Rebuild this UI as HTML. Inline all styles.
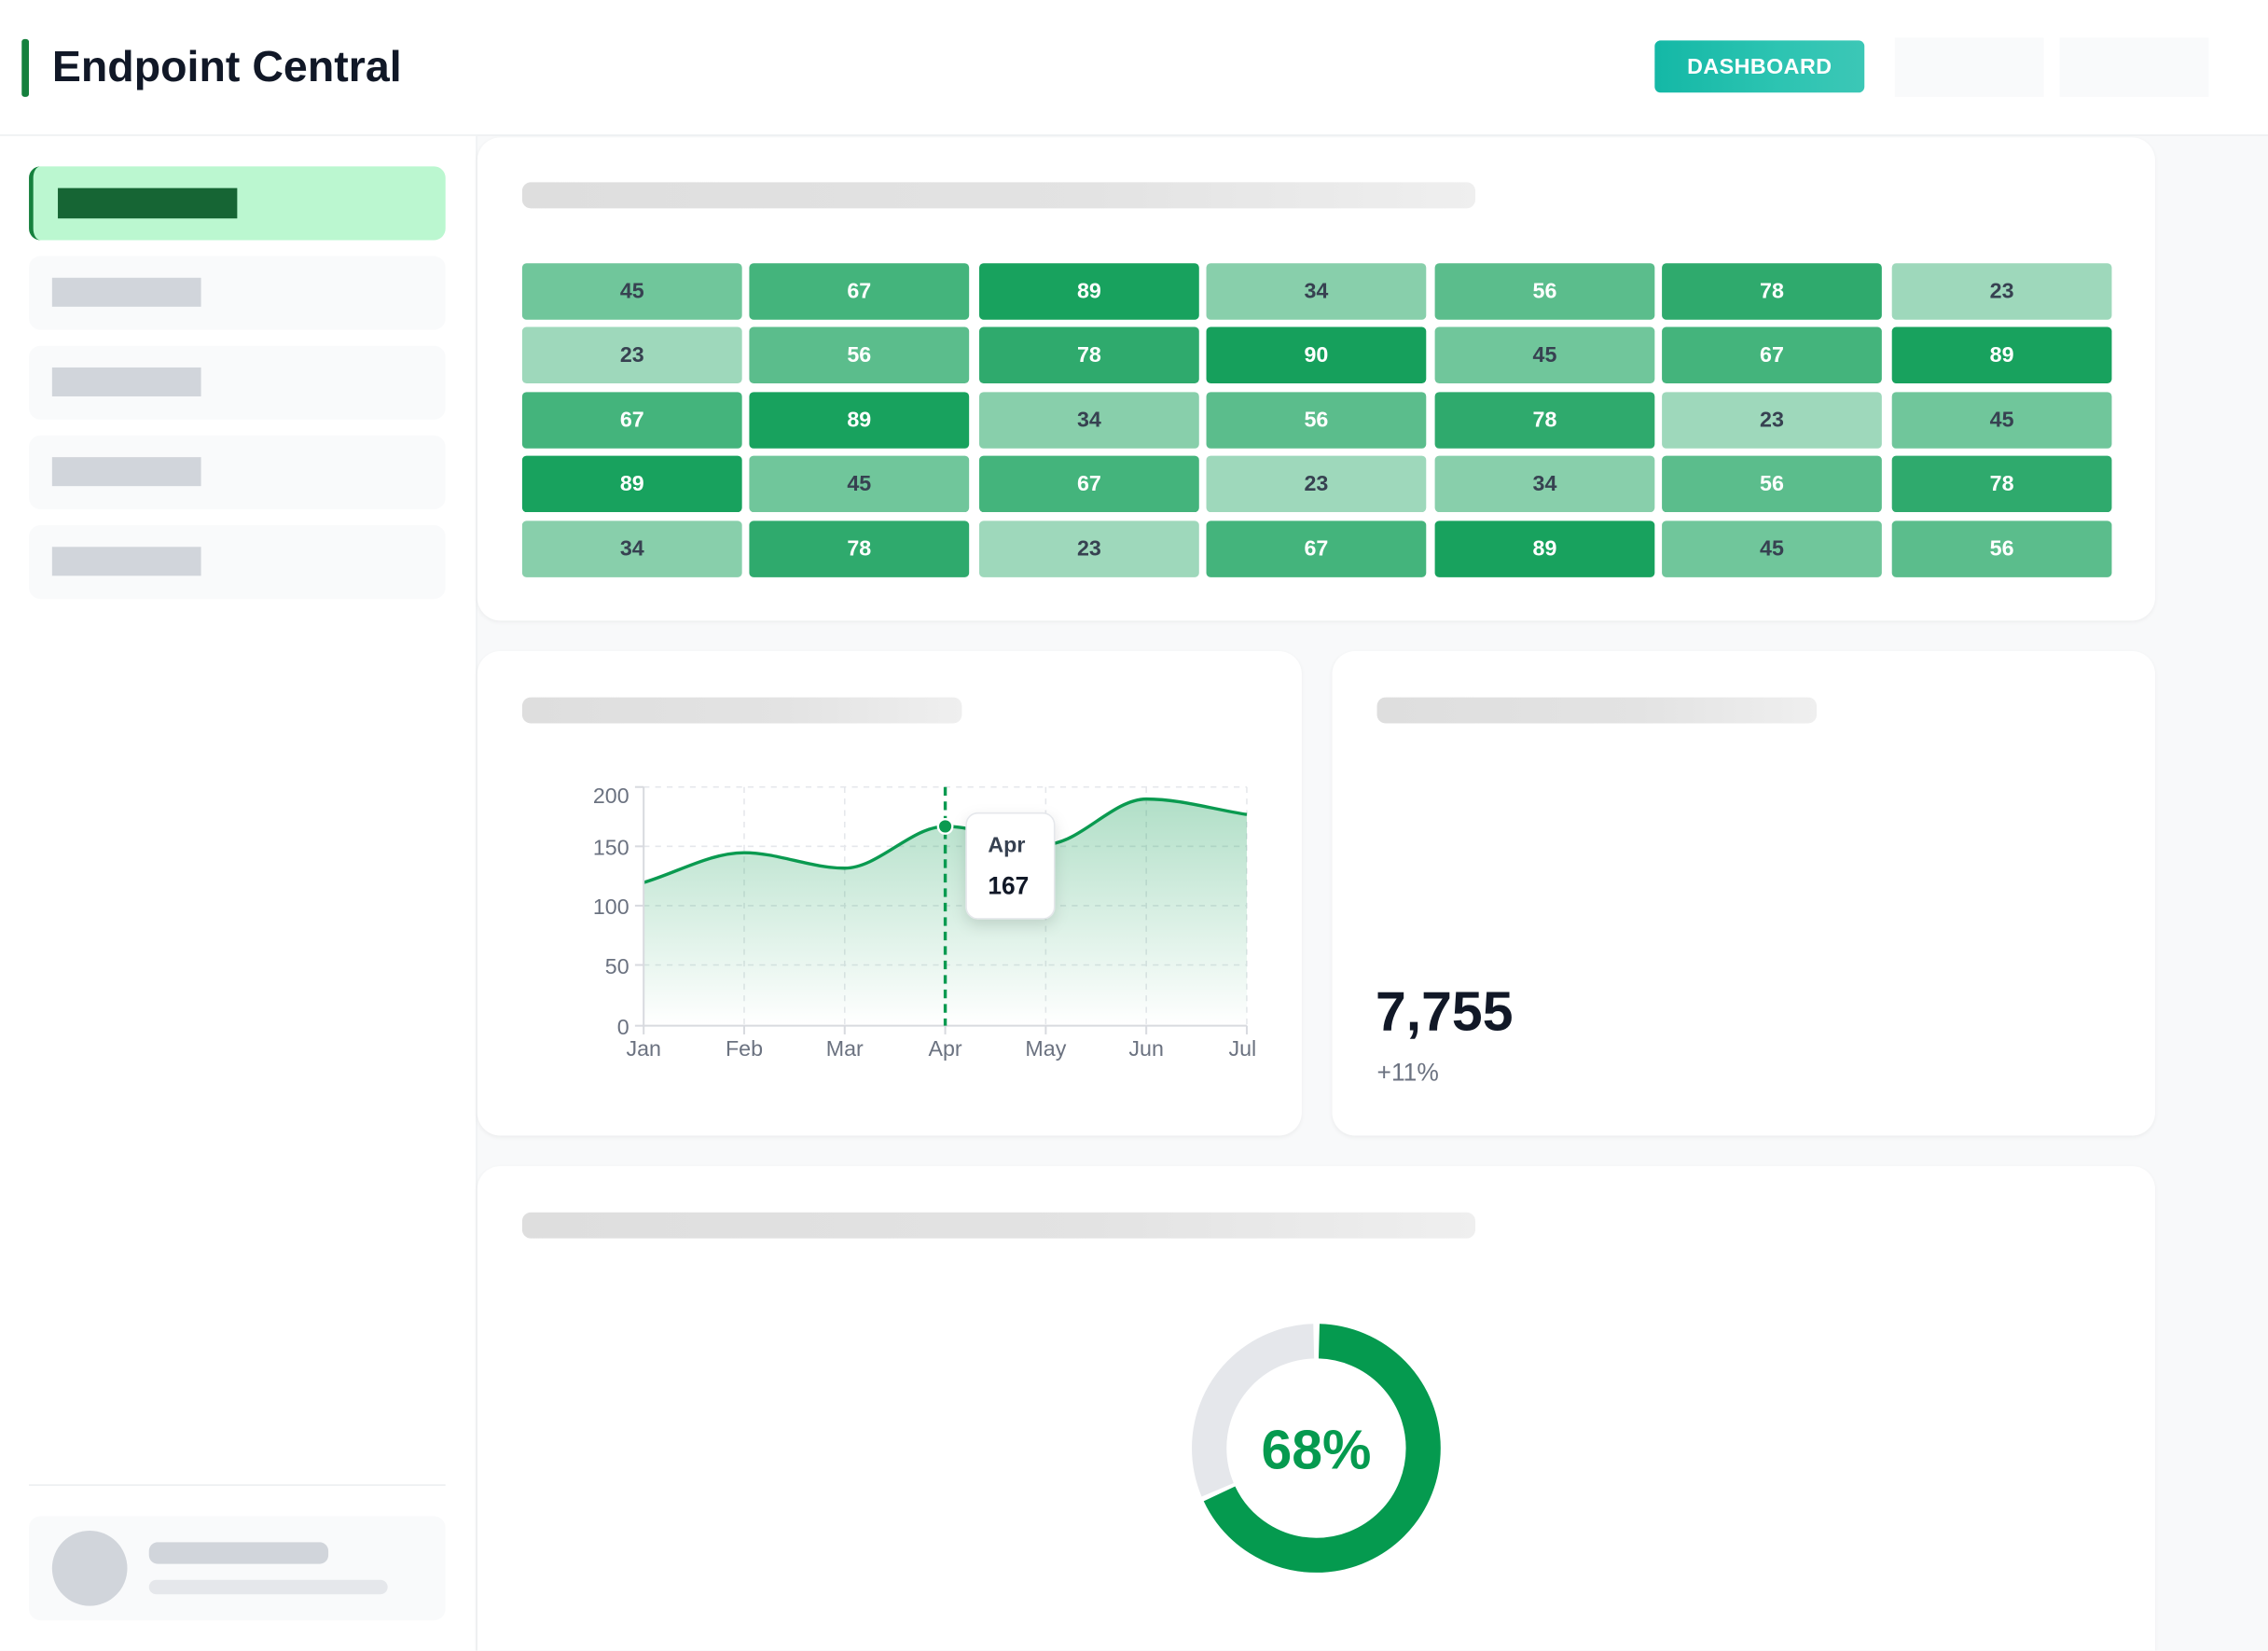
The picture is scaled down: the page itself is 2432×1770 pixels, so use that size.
<!DOCTYPE html>
<html><head><meta charset="utf-8"><style>
html,body{margin:0;padding:0;width:2432px;height:1770px;overflow:hidden;background:#f8f9fa;font-family:"Liberation Sans",sans-serif}
#w{position:absolute;left:0;top:0;width:1568px;height:1141px;overflow:hidden;transform:scale(1.551);transform-origin:0 0;background:#f8f9fa}
.a{position:absolute}
.card{position:absolute;background:#fff;border-radius:16px;box-shadow:0 1px 3px rgba(0,0,0,.05)}
.tb{position:absolute;height:18px;border-radius:6px;background:linear-gradient(90deg,#dedede,#e3e3e3 60%,#efefef)}
.si{position:absolute;left:20px;width:288px;height:51px;background:#f9fafb;border-radius:8px}
.si i{position:absolute;left:16px;top:15px;width:103px;height:20px;background:#d1d5db}
.c{position:absolute;width:152px;height:39px;border-radius:3px;font-weight:bold;font-size:15px;display:flex;align-items:center;justify-content:center}
</style></head><body><div id="w">
<div class="a" style="left:0;top:0;width:1568px;height:93px;background:#fff;border-bottom:1px solid #eceef0"></div>
<div class="a" style="left:15px;top:27px;width:5px;height:40px;background:#15803d;border-radius:2px"></div>
<div class="a" style="left:36px;top:27px;font-size:30px;font-weight:bold;color:#111827;line-height:40px">Endpoint Central</div>
<div class="a" style="left:1144px;top:28px;width:145px;height:36px;border-radius:4px;background:linear-gradient(90deg,#14b8a6,#2dc4b2 60%,#3cc7b6);color:#fff;font-weight:bold;font-size:15px;display:flex;align-items:center;justify-content:center;letter-spacing:.3px">DASHBOARD</div>
<div class="a" style="left:1310px;top:26px;width:103px;height:41px;background:#f9fafb"></div>
<div class="a" style="left:1424px;top:26px;width:103px;height:41px;background:#f9fafb"></div>
<div class="a" style="left:0;top:94px;width:329px;height:1047px;background:#fff;border-right:1px solid #eef0f2"></div>
<div class="a" style="left:20px;top:115px;width:288px;height:51px;background:#bbf7d0;border-radius:8px;border-left:3px solid #15803d;box-sizing:border-box"></div>
<div class="a" style="left:40px;top:130px;width:124px;height:21px;background:#166534"></div>
<div class="si" style="top:177px"><i></i></div>
<div class="si" style="top:239px"><i></i></div>
<div class="si" style="top:301px"><i></i></div>
<div class="si" style="top:363px"><i></i></div>
<div class="a" style="left:20px;top:1026px;width:288px;height:1px;background:#eceef0"></div>
<div class="si" style="top:1048px;height:72px"></div>
<div class="a" style="left:36px;top:1058px;width:52px;height:52px;border-radius:50%;background:#d1d5db"></div>
<div class="a" style="left:103px;top:1066px;width:124px;height:15px;border-radius:6px;background:#d1d5db"></div>
<div class="a" style="left:103px;top:1092px;width:165px;height:10px;border-radius:5px;background:#e5e7eb"></div>

<div class="card" style="left:330px;top:95px;width:1160px;height:334px"></div>
<div class="tb" style="left:361px;top:126px;width:659px"></div>
<div id="hm"></div>

<div class="card" style="left:330px;top:450px;width:570px;height:335px"></div>
<div class="tb" style="left:361px;top:482px;width:304px"></div>
<svg class="a" style="left:0;top:0" width="1568" height="1141">
<defs><linearGradient id="g" x1="0" y1="0" x2="0" y2="1"><stop offset="0" stop-color="#0a9a50" stop-opacity=".32"/><stop offset="1" stop-color="#0a9a50" stop-opacity="0"/></linearGradient>
<filter id="sh" x="-50%" y="-50%" width="200%" height="200%"><feDropShadow dx="0" dy="4" stdDeviation="5" flood-color="#000" flood-opacity=".12"/></filter></defs>
<g stroke="#e5e7eb" stroke-dasharray="4 4" stroke-width="1">
<line x1="445" y1="544" x2="862" y2="544"/><line x1="445" y1="585" x2="862" y2="585"/><line x1="445" y1="626" x2="862" y2="626"/><line x1="445" y1="667" x2="862" y2="667"/>
<line x1="514.5" y1="544" x2="514.5" y2="709"/><line x1="584" y1="544" x2="584" y2="709"/><line x1="723" y1="544" x2="723" y2="709"/><line x1="792.5" y1="544" x2="792.5" y2="709"/><line x1="862" y1="544" x2="862" y2="709"/>
</g>
<path d="M445,610 C468.2,603.1 491.3,589.4 514.5,589.4 C537.7,589.4 560.8,600.1 584,600.1 C607.2,600.1 630.3,571.2 653.5,571.2 C676.7,571.2 699.8,583.6 723,583.6 C746.2,583.6 769.3,552.3 792.5,552.3 C815.7,552.3 838.8,559.4 862,563 L862,709 L445,709 Z" fill="url(#g)"/>
<path d="M445,610 C468.2,603.1 491.3,589.4 514.5,589.4 C537.7,589.4 560.8,600.1 584,600.1 C607.2,600.1 630.3,571.2 653.5,571.2 C676.7,571.2 699.8,583.6 723,583.6 C746.2,583.6 769.3,552.3 792.5,552.3 C815.7,552.3 838.8,559.4 862,563" fill="none" stroke="#0a9a50" stroke-width="2.2"/>
<g stroke="#d8dadf" stroke-width="1.3"><line x1="445" y1="544" x2="445" y2="709"/><line x1="445" y1="709" x2="862" y2="709"/>
<line x1="439" y1="544" x2="445" y2="544"/><line x1="439" y1="585" x2="445" y2="585"/><line x1="439" y1="626" x2="445" y2="626"/><line x1="439" y1="667" x2="445" y2="667"/><line x1="439" y1="709" x2="445" y2="709"/>
<line x1="445" y1="709" x2="445" y2="715"/><line x1="514.5" y1="709" x2="514.5" y2="715"/><line x1="584" y1="709" x2="584" y2="715"/><line x1="653.5" y1="709" x2="653.5" y2="715"/><line x1="723" y1="709" x2="723" y2="715"/><line x1="792.5" y1="709" x2="792.5" y2="715"/><line x1="862" y1="709" x2="862" y2="715"/></g>
<g font-family="Liberation Sans" font-size="15" fill="#6b7280" text-anchor="end">
<text x="435" y="555">200</text><text x="435" y="591">150</text><text x="435" y="632">100</text><text x="435" y="673">50</text><text x="435" y="715">0</text></g>
<g font-family="Liberation Sans" font-size="15" fill="#6b7280" text-anchor="middle">
<text x="445" y="730">Jan</text><text x="514.5" y="730">Feb</text><text x="584" y="730">Mar</text><text x="653.5" y="730">Apr</text><text x="723" y="730">May</text><text x="792.5" y="730">Jun</text><text x="859" y="730">Jul</text></g>
<line x1="653.5" y1="544" x2="653.5" y2="709" stroke="#0a9a50" stroke-width="2.2" stroke-dasharray="6 4"/>
<circle cx="653.5" cy="571.2" r="5" fill="#0a9a50" stroke="#fff" stroke-width="1.5"/>
<rect x="668" y="562" width="61" height="73" rx="8" fill="#fff" stroke="#e5e7eb" filter="url(#sh)"/>
<text x="683" y="589" font-family="Liberation Sans" font-size="15" font-weight="bold" fill="#374151">Apr</text>
<text x="683" y="618" font-family="Liberation Sans" font-size="17" font-weight="bold" fill="#111827">167</text>
</svg>

<div class="card" style="left:921px;top:450px;width:569px;height:335px"></div>
<div class="tb" style="left:952px;top:482px;width:304px"></div>
<div class="a" style="left:951px;top:678px;font-size:38px;font-weight:bold;color:#111827;line-height:44px">7,755</div>
<div class="a" style="left:952px;top:731px;font-size:17px;color:#6b7280;line-height:22px">+11%</div>

<div class="card" style="left:330px;top:806px;width:1160px;height:335px;border-radius:16px 16px 0 0"></div>
<div class="tb" style="left:361px;top:838px;width:659px"></div>
<svg class="a" style="left:0;top:0" width="1568" height="1141">
<g transform="rotate(-90 910 1001)" fill="none" stroke-width="24">
<circle cx="910" cy="1001" r="74" stroke="#e5e7eb" stroke-dasharray="144 321" stroke-dashoffset="-319"/>
<circle cx="910" cy="1001" r="74" stroke="#059a4f" stroke-dasharray="314 151" stroke-dashoffset="-2"/>
</g>
<text x="910" y="1015" text-anchor="middle" font-family="Liberation Sans" font-size="38" font-weight="bold" fill="#059a4f">68%</text>
</svg>
</div>
<script>
var v=[[45,67,89,34,56,78,23],[23,56,78,90,45,67,89],[67,89,34,56,78,23,45],[89,45,67,23,34,56,78],[34,78,23,67,89,45,56]];
var col={23:"#9ed8bb",34:"#88cfab",45:"#70c69b",56:"#5bbd8c",67:"#44b47c",78:"#2faa6d",89:"#18a25e",90:"#16a05c"};
var xs=[361,518,677,834,992,1149,1308],ys=[182,226,271,315,360],h="";
for(var r=0;r<5;r++)for(var c=0;c<7;c++){var n=v[r][c];h+='<div class="c" style="left:'+xs[c]+'px;top:'+ys[r]+'px;background:'+col[n]+';color:'+(n<50?'#374151':'#fff')+'">'+n+'</div>';}
document.getElementById('hm').innerHTML=h;
</script>
</body></html>
